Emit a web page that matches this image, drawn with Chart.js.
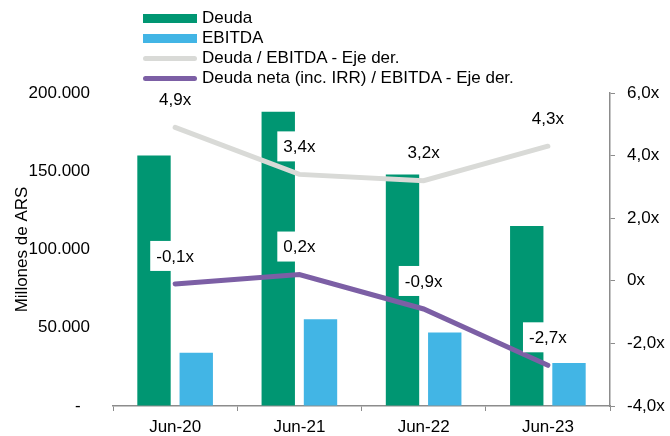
<!DOCTYPE html>
<html>
<head>
<meta charset="utf-8">
<script src="https://cdn.jsdelivr.net/npm/chart.js@4"></script>
<style>
    body { margin: 0; background: #fff; }
    #wrap { position: relative; width: 670px; height: 436px; }
    #legend { position: absolute; left: 143px; top: 8px; font-family: Arial, "Liberation Sans", sans-serif; font-size: 17px; color: #000; }
    #legend .row { display: flex; align-items: center; height: 20px; }
    #legend .sw { width: 54px; margin-right: 5px; }
</style>
</head>
<body>
<div id="wrap">
    <canvas id="chart" width="670" height="436"></canvas>
    <div id="legend"></div>
</div>
<script>
const categories = ['Jun-20', 'Jun-21', 'Jun-22', 'Jun-23'];
const deuda = [160000, 188000, 148000, 115000];
const ebitda = [34000, 55500, 47000, 27500];
const deudaEbitda = [4.9, 3.4, 3.2, 4.3];
const deudaNetaEbitda = [-0.1, 0.2, -0.9, -2.7];

const FONT = 'Arial, "Liberation Sans", sans-serif';
const AXIS_GREY = '#8c8c8c';

const fmtX = v => v === 0 ? '0x' : v.toFixed(1).replace('.', ',') + 'x';

// Labels with white box above each point of the ratio lines
const lineLabels = {
    id: 'lineLabels',
    afterDatasetsDraw(chart) {
        const ctx = chart.ctx;
        ctx.save();
        ctx.font = '17px ' + FONT;
        ctx.textAlign = 'center';
        ctx.textBaseline = 'middle';
        chart.data.datasets.forEach((ds, i) => {
            if (ds.type !== 'line') return;
            chart.getDatasetMeta(i).data.forEach((pt, j) => {
                const text = fmtX(ds.data[j]);
                const w = ctx.measureText(text).width + 12;
                const h = 30;
                const y = pt.y - 28;
                ctx.fillStyle = '#fff';
                ctx.fillRect(pt.x - w / 2, y - h / 2, w, h);
                ctx.fillStyle = '#000';
                ctx.fillText(text, pt.x, y + 1);
            });
        });
        ctx.restore();
    }
};

const chart = new Chart(document.getElementById('chart'), {
    data: {
        labels: categories,
        datasets: [
            {
                type: 'line',
                label: 'Deuda / EBITDA - Eje der.',
                data: deudaEbitda,
                yAxisID: 'y1',
                borderColor: '#d9dad7',
                borderWidth: 5,
                borderCapStyle: 'round',
                pointRadius: 0,
                order: 1
            },
            {
                type: 'line',
                label: 'Deuda neta (inc. IRR) / EBITDA - Eje der.',
                data: deudaNetaEbitda,
                yAxisID: 'y1',
                borderColor: '#7c5fa5',
                borderWidth: 5,
                borderCapStyle: 'round',
                pointRadius: 0,
                order: 0
            },
            {
                type: 'bar',
                label: 'Deuda',
                data: deuda,
                yAxisID: 'y',
                backgroundColor: '#009672',
                categoryPercentage: 0.68,
                barPercentage: 0.79,
                order: 2
            },
            {
                type: 'bar',
                label: 'EBITDA',
                data: ebitda,
                yAxisID: 'y',
                backgroundColor: '#42b5e5',
                categoryPercentage: 0.68,
                barPercentage: 0.79,
                order: 2
            }
        ]
    },
    options: {
        responsive: false,
        animation: false,
        layout: { padding: { top: 93, left: 0, right: 0, bottom: 0 } },
        plugins: {
            legend: { display: false },
            tooltip: { enabled: false }
        },
        scales: {
            x: {
                grid: { offset: true, drawOnChartArea: false, tickLength: 5, color: AXIS_GREY },
                border: { color: AXIS_GREY, width: 1.5 },
                ticks: { color: '#000', font: { family: FONT, size: 17 }, padding: 6 },
                afterFit: s => { s.height = 30; }
            },
            y: {
                position: 'left',
                min: 0,
                max: 200000,
                // invisible tick marks push the labels away from the plot
                grid: { drawOnChartArea: false, tickLength: 20, color: 'rgba(0,0,0,0)' },
                border: { display: false },
                ticks: {
                    stepSize: 50000,
                    color: '#000',
                    padding: 3,
                    font: { family: FONT, size: 17 },
                    callback: v => v === 0 ? '-  ' : v.toLocaleString('de-DE')
                },
                title: {
                    display: true,
                    text: 'Millones de ARS',
                    color: '#000',
                    font: { family: FONT, size: 17 },
                    padding: { top: 12, bottom: 0 }
                },
                afterFit: s => { s.width = 113; }
            },
            y1: {
                position: 'right',
                min: -4,
                max: 6,
                grid: { drawOnChartArea: false, tickLength: 5, color: AXIS_GREY },
                border: { color: AXIS_GREY, width: 1.5 },
                ticks: {
                    stepSize: 2,
                    color: '#000',
                    padding: 12,
                    font: { family: FONT, size: 17 },
                    callback: v => fmtX(v)
                },
                afterFit: s => { s.width = 60; }
            }
        }
    },
    plugins: [lineLabels]
});

// HTML legend, stacked in one column like the original
const legendItems = [
    { text: 'Deuda', color: '#009672', h: 9, r: 0 },
    { text: 'EBITDA', color: '#42b5e5', h: 9, r: 0 },
    { text: 'Deuda / EBITDA - Eje der.', color: '#d9dad7', h: 5, r: 3 },
    { text: 'Deuda neta (inc. IRR) / EBITDA - Eje der.', color: '#7c5fa5', h: 5, r: 3 }
];
const legendEl = document.getElementById('legend');
legendItems.forEach(item => {
    const row = document.createElement('div');
    row.className = 'row';
    const sw = document.createElement('span');
    sw.className = 'sw';
    sw.style.height = item.h + 'px';
    sw.style.background = item.color;
    sw.style.borderRadius = item.r + 'px';
    const label = document.createElement('span');
    label.textContent = item.text;
    row.appendChild(sw);
    row.appendChild(label);
    legendEl.appendChild(row);
});
</script>
</body>
</html>
